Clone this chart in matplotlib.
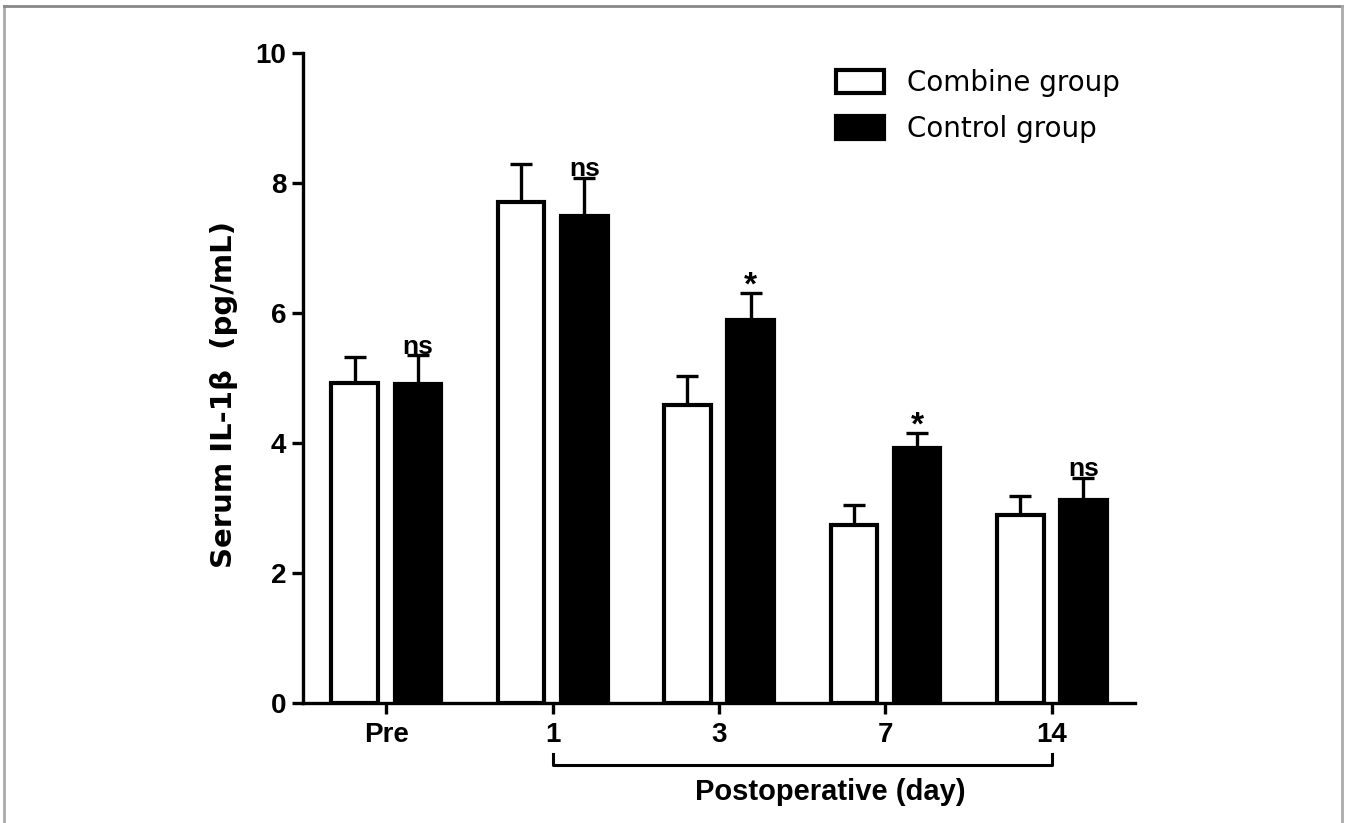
import matplotlib
matplotlib.use('Agg')
import matplotlib.pyplot as plt
import numpy as np
from matplotlib.lines import Line2D

plt.rcParams['font.family'] = ['Liberation Sans', 'DejaVu Sans']

# data
groups = ['Pre', '1', '3', '7', '14']
combine_mean = [4.93, 7.71, 4.58, 2.74, 2.89]
combine_sd = [0.39, 0.58, 0.45, 0.31, 0.29]
control_mean = [4.91, 7.50, 5.90, 3.92, 3.12]
control_sd = [0.44, 0.58, 0.41, 0.23, 0.34]
marks = ['ns', 'ns', '*', '*', 'ns']

x = np.arange(len(groups))
w = 0.28
off = 0.19

fig = plt.figure(figsize=(13.45, 8.23), dpi=100)
ax = fig.add_axes([0.2253, 0.1458, 0.8439 - 0.2253, 0.9356 - 0.1458])

ax.bar(x - off, combine_mean, w, color='white', edgecolor='black', linewidth=3,
       label='Combine group', zorder=2)
ax.bar(x + off, control_mean, w, color='black', edgecolor='black', linewidth=3,
       label='Control group', zorder=2)

# upper error bars only
ax.errorbar(x - off, combine_mean, yerr=[np.zeros(5), combine_sd], fmt='none',
            ecolor='black', elinewidth=2.4, capsize=8, capthick=2.4, zorder=1)
ax.errorbar(x + off, control_mean, yerr=[np.zeros(5), control_sd], fmt='none',
            ecolor='black', elinewidth=2.4, capsize=8, capthick=2.4, zorder=1)

for i in range(len(groups)):
    top = control_mean[i] + control_sd[i]
    if marks[i] == '*':
        ax.text(x[i] + off, top - 0.13, '*', ha='center', va='bottom',
                fontsize=24, fontweight='bold')
    else:
        ax.text(x[i] + off, top - 0.05, 'ns', ha='center', va='bottom',
                fontsize=19, fontweight='bold')

ax.set_xlim(-0.5, 4.5)
ax.set_ylim(0, 10)
ax.set_yticks([0, 2, 4, 6, 8, 10])
ax.set_xticks(x)
ax.set_xticklabels(groups)
for s in ['top', 'right']:
    ax.spines[s].set_visible(False)
for s in ['left', 'bottom']:
    ax.spines[s].set_linewidth(2.4)
ax.tick_params(width=2.4, length=8, labelsize=20, pad=4)
ax.tick_params(axis='x', pad=6)
for lab in ax.get_xticklabels() + ax.get_yticklabels():
    lab.set_fontweight('bold')

ax.set_ylabel('Serum IL-1\u03b2  (pg/mL)', fontsize=21, fontweight='bold',
              family='DejaVu Sans')
ax.yaxis.set_label_coords(-0.078, 0.474)

# bracket for postoperative days
trans = ax.get_xaxis_transform()
ax.plot([1, 1, 4, 4], [-0.079, -0.096, -0.096, -0.079], color='black', lw=2.2,
        transform=trans, clip_on=False)
ax.text(2.67, -0.115, 'Postoperative (day)', transform=trans, ha='center', va='top',
        fontsize=21, fontweight='bold')

leg = ax.legend(loc='upper left', bbox_to_anchor=(0.611, 1.014), frameon=False,
                prop={'family': 'DejaVu Sans', 'size': 20}, handlelength=1.73,
                handleheight=0.93, labelspacing=0.66, handletextpad=0.8)

# thin grey frame around the figure
fig.add_artist(Line2D([0.003, 0.003], [0, 0.993], color='#aaaaaa', lw=2))
fig.add_artist(Line2D([0.003, 0.998], [0.993, 0.993], color='#888888', lw=2))
fig.add_artist(Line2D([0.998, 0.998], [0, 0.993], color='#aaaaaa', lw=2))

fig.savefig('out.png', dpi=100)
